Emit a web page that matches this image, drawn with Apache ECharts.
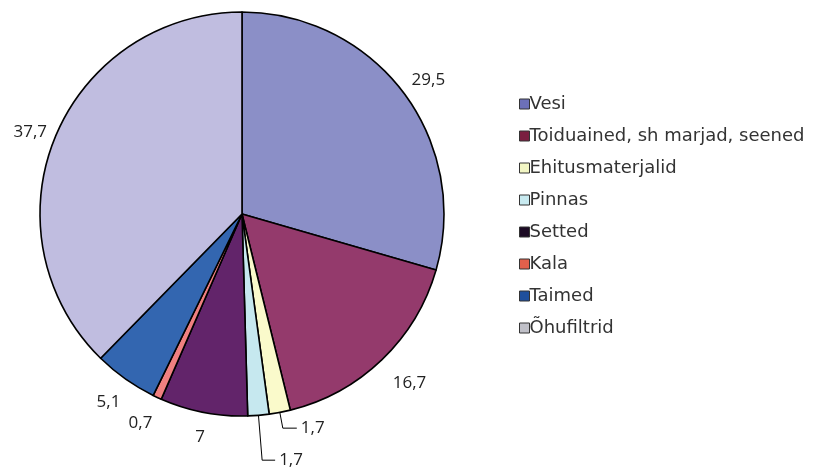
<!DOCTYPE html>
<html>
<head>
<meta charset="utf-8">
<script src="https://cdn.jsdelivr.net/npm/echarts@6/dist/echarts.min.js"></script>
<style>
  html, body { margin: 0; padding: 0; background: #fff; }
  #chart { width: 825px; height: 470px; }
</style>
</head>
<body>
<div id="chart"></div>
<script>
// ---- data ----
const categories = ['Vesi', 'Toiduained, sh marjad, seened', 'Ehitusmaterjalid', 'Pinnas', 'Setted', 'Kala', 'Taimed', 'Õhufiltrid'];
const values = [29.5, 16.7, 1.7, 1.7, 7, 0.7, 5.1, 37.7];

// ---- styling ----
const sliceColors = ['#8b8fc7', '#943a6c', '#fafacb', '#c6e8ef', '#62246a', '#f08080', '#3366b0', '#c0bde0'];
const legendColors = ['#6c70b8', '#7a1f40', '#f2f6c4', '#c8eaf0', '#1c0a24', '#e2604c', '#1f4f9c', '#c0c0c8'];
// label tweaks (index -> offsets) and leader-line items
const labelShift = { 0: [-3, -4], 1: [1, 13], 4: [4, 11], 5: [1, 13], 6: [3, 12], 7: [5, 0] };
const leaderLines = { 2: [16, 14], 3: [45, 13] };

const chart = echarts.init(document.getElementById('chart'), null, { renderer: 'canvas' });

const pieData = categories.map((name, i) => {
  const item = { name: name, value: values[i], itemStyle: { color: sliceColors[i] } };
  if (leaderLines[i]) {
    item.labelLine = { show: true, length: leaderLines[i][0], length2: leaderLines[i][1] };
    item.label = { distanceToLabelLine: 4 };
  }
  return item;
});

const option = {
  animation: false,
  backgroundColor: '#fff',
  legend: {
    orient: 'vertical',
    left: 514,
    top: 90,
    itemWidth: 10,
    itemHeight: 10,
    itemGap: 14,
    icon: 'rect',
    selectedMode: false,
    textStyle: { fontFamily: 'DejaVu Sans', fontSize: 18, color: '#333', padding: [0, 0, 0, -5] },
    data: categories.map((name, i) => ({
      name: name,
      itemStyle: { color: legendColors[i], borderColor: '#333', borderWidth: 1 }
    }))
  },
  series: [{
    type: 'pie',
    center: [242, 214],
    radius: 202,
    startAngle: 90,
    clockwise: true,
    avoidLabelOverlap: false,
    itemStyle: { borderColor: '#000', borderWidth: 1.6 },
    emphasis: { disabled: true },
    label: {
      show: true,
      position: 'outside',
      fontFamily: 'Open Sans',
      fontSize: 17,
      color: '#222',
      distanceToLabelLine: 0,
      formatter: p => String(p.value).replace('.', ',')
    },
    labelLine: {
      show: false,
      length: 14,
      length2: 0,
      smooth: false,
      lineStyle: { color: '#000', width: 1 }
    },
    labelLayout: function (params) {
      const s = labelShift[params.dataIndex];
      if (s) return { dx: s[0], dy: s[1] };
      return {};
    },
    data: pieData
  }]
};

chart.setOption(option);
</script>
</body>
</html>
